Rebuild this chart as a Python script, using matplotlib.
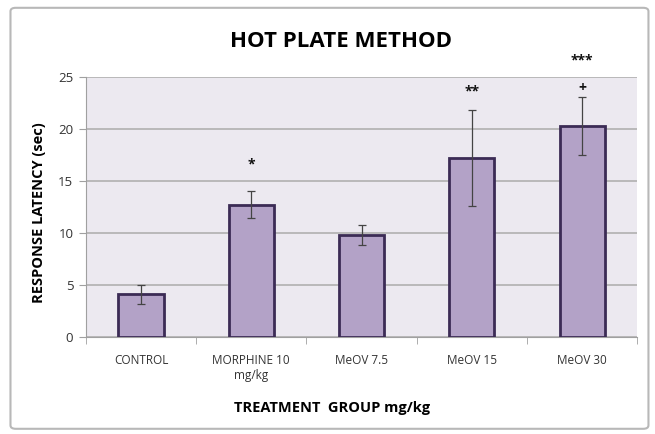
import matplotlib.pyplot as plt
from matplotlib.patches import FancyBboxPatch
import numpy as np

groups = ["CONTROL", "MORPHINE 10\nmg/kg", "MeOV 7.5", "MeOV 15", "MeOV 30"]
latency = [4.1, 12.7, 9.8, 17.2, 20.3]
err = [0.9, 1.3, 1.0, 4.65, 2.75]
marks = ["", "*", "", "**", "+"]
mark_y = [0, 16.6, 0, 23.6, 23.9]
top_mark = "***"
top_mark_y = 26.6

plt.rcParams["font.family"] = ["Open Sans", "DejaVu Sans"]

fig = plt.figure(figsize=(6.55, 4.34), dpi=100)
ax = fig.add_axes([0.131, 0.2235, 0.842, 0.599])

# outer chart border
border = FancyBboxPatch((0.016, 0.012), 0.974, 0.97, boxstyle="round,pad=0,rounding_size=0.008",
                        transform=fig.transFigure, fill=False, edgecolor="#b8b8b8", linewidth=1.5)
fig.patches.append(border)

x = np.arange(len(groups))
ax.set_facecolor("#ece9f0")
ax.bar(x, latency, width=0.41, color="#b3a2c7", edgecolor="#3b2b55", linewidth=2, zorder=3)
ax.errorbar(x, latency, yerr=err, fmt="none", ecolor="#444444", elinewidth=0.9,
            capsize=3, capthick=0.9, zorder=4)

for xi, m, my in zip(x, marks, mark_y):
    if m:
        ax.text(xi, my, m, ha="center", va="center", fontsize=10, fontweight="bold", color="#111111")
ax.text(x[-1], top_mark_y, top_mark, ha="center", va="center", fontsize=10,
        fontweight="bold", color="#111111", clip_on=False)

ax.set_xlim(-0.5, len(groups) - 0.5)
ax.set_ylim(0, 25)
ax.set_yticks(range(0, 26, 5))
ax.yaxis.grid(True, color="#b0b0b0", linewidth=1.2, zorder=0)
ax.set_axisbelow(True)

ax.set_xticks(x)
ax.set_xticklabels(groups, fontsize=8.5, color="#333333", linespacing=1.25)
ax.set_xticks(np.arange(-0.5, len(groups)), minor=True)
ax.tick_params(axis="x", which="major", length=0, pad=12)
ax.tick_params(axis="x", which="minor", length=5, color="#a0a0a0")
ax.tick_params(axis="y", length=5, color="#a0a0a0", labelsize=9.5, labelcolor="#333333", pad=4)

for s in ["top", "right"]:
    ax.spines[s].set_visible(False)
for s in ["left", "bottom"]:
    ax.spines[s].set_color("#a0a0a0")

ax.set_xlabel("TREATMENT  GROUP mg/kg", fontsize=10.5, fontweight="bold")
ax.xaxis.set_label_coords(0.446, -0.245)
ax.set_ylabel("RESPONSE LATENCY (sec)", fontsize=10.5, fontweight="bold")
ax.yaxis.set_label_coords(-0.072, 0.48)
fig.text(0.52, 0.905, "HOT PLATE METHOD", ha="center", va="center", fontsize=16, fontweight="bold")

plt.savefig("out.png", dpi=100)
